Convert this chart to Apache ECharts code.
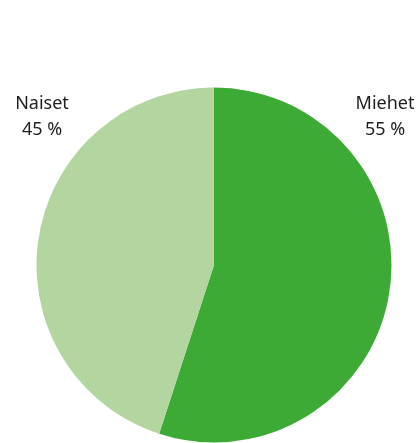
<!DOCTYPE html>
<html><head><meta charset="utf-8">
<script src="https://cdn.jsdelivr.net/npm/echarts@6/dist/echarts.min.js"></script>
<style>html,body{margin:0;padding:0;background:#fff}#c{width:416px;height:443px}</style>
</head><body><div id="c"></div>
<script>
var categories = ['Miehet', 'Naiset'];
var values = [55, 45];
var colors = ['#3daa35', '#b3d5a0'];
var labelPos = [{x: 385, y: 117}, {x: 42, y: 117}];

var chart = echarts.init(document.getElementById('c'));
chart.setOption({
  animation: false,
  graphic: categories.map(function (c, i) {
    return {
      type: 'text',
      x: labelPos[i].x,
      y: labelPos[i].y,
      style: {
        text: c + '\n' + values[i] + ' %',
        fontFamily: '"Noto Sans", sans-serif',
        fontSize: 18,
        lineHeight: 26,
        fill: '#1e1e1e',
        align: 'center',
        verticalAlign: 'middle'
      }
    };
  }),
  series: [{
    type: 'pie',
    center: [214, 265],
    radius: 177.5,
    startAngle: 90,
    clockwise: true,
    data: categories.map(function (c, i) {
      return {name: c, value: values[i], itemStyle: {color: colors[i]}};
    }),
    label: {show: false},
    labelLine: {show: false},
    emphasis: {disabled: true}
  }]
});
</script></body></html>
